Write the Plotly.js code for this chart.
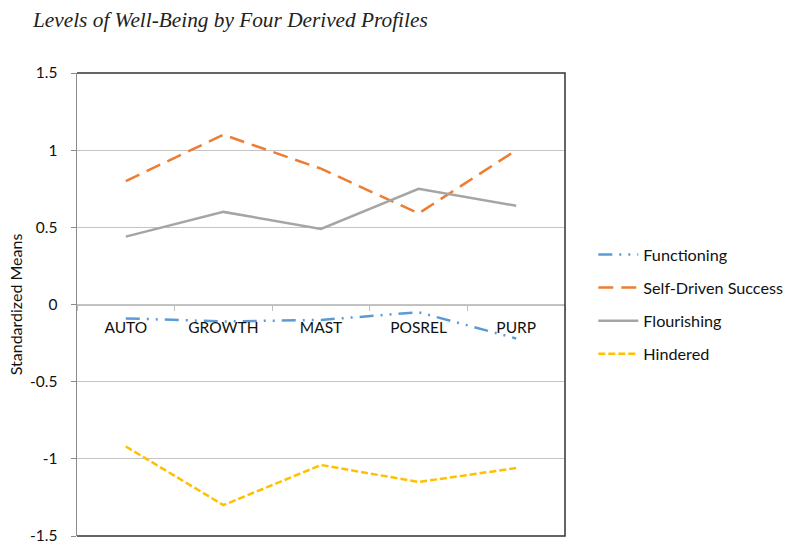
<!DOCTYPE html>
<html>
<head>
<meta charset="utf-8">
<script src="https://cdn.plot.ly/plotly-3.0.1.min.js"></script>
<style>html,body{margin:0;padding:0;background:#fff;}#chart{width:800px;height:550px;}</style>
</head>
<body>
<div id="chart"></div>
<script>
const categories = ["AUTO", "GROWTH", "MAST", "POSREL", "PURP"];
const seriesNames = ["Functioning", "Self-Driven Success", "Flourishing", "Hindered"];
const functioning = [-0.09, -0.11, -0.10, -0.05, -0.22];
const selfDriven = [0.80, 1.10, 0.88, 0.59, 1.00];
const flourishing = [0.44, 0.60, 0.49, 0.75, 0.64];
const hindered = [-0.92, -1.30, -1.04, -1.15, -1.06];
const yTicks = [-1.5, -1, -0.5, 0, 0.5, 1, 1.5];

const styles = [
  {color: "#5b9bd5", dash: "14px,7px,2px,7px,2px,7px", width: 2.5},
  {color: "#ed7d31", dash: "15px,8px", width: 2.5},
  {color: "#a5a5a5", dash: "solid", width: 2.5},
  {color: "#ffc000", dash: "7px,3px", width: 2.5}
];
const values = [functioning, selfDriven, flourishing, hindered];

const traces = values.map((v, i) => ({
  type: "scatter",
  mode: "lines",
  x: categories,
  y: v,
  name: seriesNames[i],
  legendgroup: "g" + i,
  line: {color: styles[i].color, dash: styles[i].dash, width: styles[i].width}
}));

const font = "Lato, 'Open Sans', sans-serif";

const layout = {
  width: 800,
  height: 550,
  paper_bgcolor: "#fff",
  plot_bgcolor: "#fff",
  margin: {l: 77, r: 231, t: 73, b: 14},
  title: {
    text: "Levels of Well-Being by Four Derived Profiles",
    font: {family: "'Liberation Serif', 'Times New Roman', serif", size: 21.3, color: "#222", style: "italic"},
    x: 33 / 800, xanchor: "left", xref: "container",
    y: 1 - 20 / 550, yanchor: "middle", yref: "container"
  },
  xaxis: {
    type: "category",
    anchor: "free",
    position: 0.5,
    showline: true,
    linecolor: "#bfbfbf",
    linewidth: 1.3,
    ticks: "outside",
    tickson: "boundaries",
    ticklen: 5,
    tickcolor: "#bfbfbf",
    ticklabelstandoff: 9,
    showgrid: false,
    zeroline: false,
    tickfont: {family: font, size: 15.5, color: "#111"},
    range: [-0.5, 4.5],
    fixedrange: true
  },
  yaxis: {
    range: [-1.5, 1.5],
    tickvals: yTicks,
    ticktext: yTicks.map(String),
    showline: true,
    linecolor: "#8c8c8c",
    linewidth: 1.5,
    ticks: "outside",
    ticklen: 5,
    tickcolor: "#8c8c8c",
    ticklabelstandoff: 10,
    showgrid: true,
    gridcolor: "#c4c4c4",
    gridwidth: 1.2,
    zeroline: false,
    tickfont: {family: font, size: 15.5, color: "#111"},
    title: {text: "Standardized Means", font: {family: font, size: 16, color: "#111"}, standoff: 3},
    fixedrange: true
  },
  shapes: [{
    type: "path",
    xref: "paper", yref: "paper",
    path: "M0,1 L1,1 L1,0 L0,0",
    line: {color: "#333", width: 1.5},
    layer: "above"
  }],
  legend: {
    x: 1.058, xanchor: "left",
    y: 0.5, yanchor: "middle",
    font: {family: font, size: 16.2, color: "#111"},
    traceorder: "grouped",
    tracegroupgap: 9,
    itemwidth: 40,
    bgcolor: "rgba(0,0,0,0)"
  },
  showlegend: true
};

Plotly.newPlot("chart", traces, layout, {displayModeBar: false, staticPlot: true});
</script>
</body>
</html>
